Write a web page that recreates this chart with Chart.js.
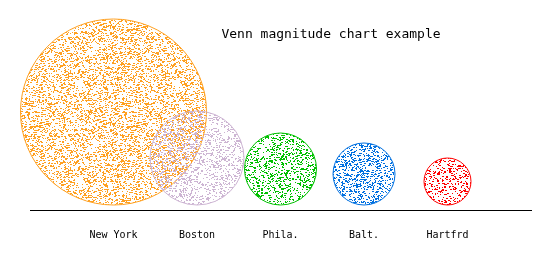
<!DOCTYPE html>
<html>
<head>
<meta charset="utf-8">
<script src="https://cdn.jsdelivr.net/npm/chart.js@4.4.1/dist/chart.umd.min.js"></script>
<style>
  html, body { margin: 0; padding: 0; background: #fff; }
  #wrap { width: 550px; height: 258px; }
</style>
</head>
<body>
<div id="wrap"><canvas id="myChart" width="550" height="258"></canvas></div>
<script>
// Cities along the baseline and the size of each circle (radius, in y units)
const cities = ["New York", "Boston", "Phila.", "Balt.", "Hartfrd"];
const radii = [93, 47, 36, 31, 23.5];
const colors = ["#ffa020", "#cdb5d3", "#00c000", "#0070e0", "#ff0000"];
const densities = [0.3, 0.26, 0.28, 0.3, 0.26];

// simple seeded generator so the stipple texture is the same every time
function makeRand(seed) {
  let s = seed;
  return function () {
    s = (s * 1103515245 + 12345) % 2147483648;
    return s / 2147483648;
  };
}

// stipple pattern: scattered pixels (some doubled) of the series colour
function stipple(color, density, seed) {
  const c = document.createElement("canvas");
  c.width = 97;
  c.height = 97;
  const g = c.getContext("2d");
  g.fillStyle = color;
  const rand = makeRand(seed);
  for (let y = 0; y < c.height; y++) {
    for (let x = 0; x < c.width; x++) {
      if (rand() < density * 0.75) {
        g.fillRect(x, y, rand() < 0.35 ? 2 : 1, 1);
      }
    }
  }
  return document.getElementById("myChart").getContext("2d").createPattern(c, "repeat");
}

// circle centre sits one radius above the base
const points = cities.map((name, i) => ({ x: i + 1, y: radii[i] }));

// pixel radius taken from the y scale so the circles touch the base
function radiusPx(context) {
  const s = context.chart.scales.y;
  const px = s.getPixelForValue(0) - s.getPixelForValue(radii[context.dataIndex]);
  return isFinite(px) && px > 0 ? px : 0;
}

const ctx = document.getElementById("myChart");

new Chart(ctx, {
  type: "scatter",
  data: {
    datasets: [
      {
        label: "Cities",
        data: points,
        showLine: false,
        clip: false,
        pointBackgroundColor: colors.map((c, i) => stipple(c, densities[i], 17 + i * 31)),
        pointBorderColor: colors,
        pointBorderWidth: 1,
        pointRadius: radiusPx,
        pointHoverRadius: radiusPx,
      },
    ],
  },
  options: {
    responsive: false,
    animation: false,
    layout: {
      autoPadding: false,
      padding: { left: 30, right: 19, top: 10, bottom: 0 },
    },
    scales: {
      x: {
        type: "linear",
        min: 0,
        max: 6,
        afterFit: function (scale) {
          scale.height = 48;
        },
        grid: { display: false, drawTicks: false },
        border: { display: true, color: "#000", width: 1 },
        ticks: {
          stepSize: 1,
          autoSkip: false,
          maxRotation: 0,
          padding: 19,
          color: "#000",
          font: { family: "DejaVu Sans Mono", size: 10 },
          callback: function (v) {
            return cities[v - 1] || "";
          },
        },
      },
      y: {
        display: false,
        min: -5,
        max: 195,
      },
    },
    plugins: {
      legend: { display: false },
      tooltip: { enabled: false },
    },
  },
  plugins: [
    {
      id: "custom_title",
      afterDraw(chart) {
        const c = chart.ctx;
        c.save();
        c.font = "13px 'DejaVu Sans Mono'";
        c.fillStyle = "#000";
        c.textAlign = "center";
        c.textBaseline = "middle";
        c.fillText("Venn magnitude chart example", 331, 35);
        c.restore();
      },
    },
  ],
});
</script>
</body>
</html>
